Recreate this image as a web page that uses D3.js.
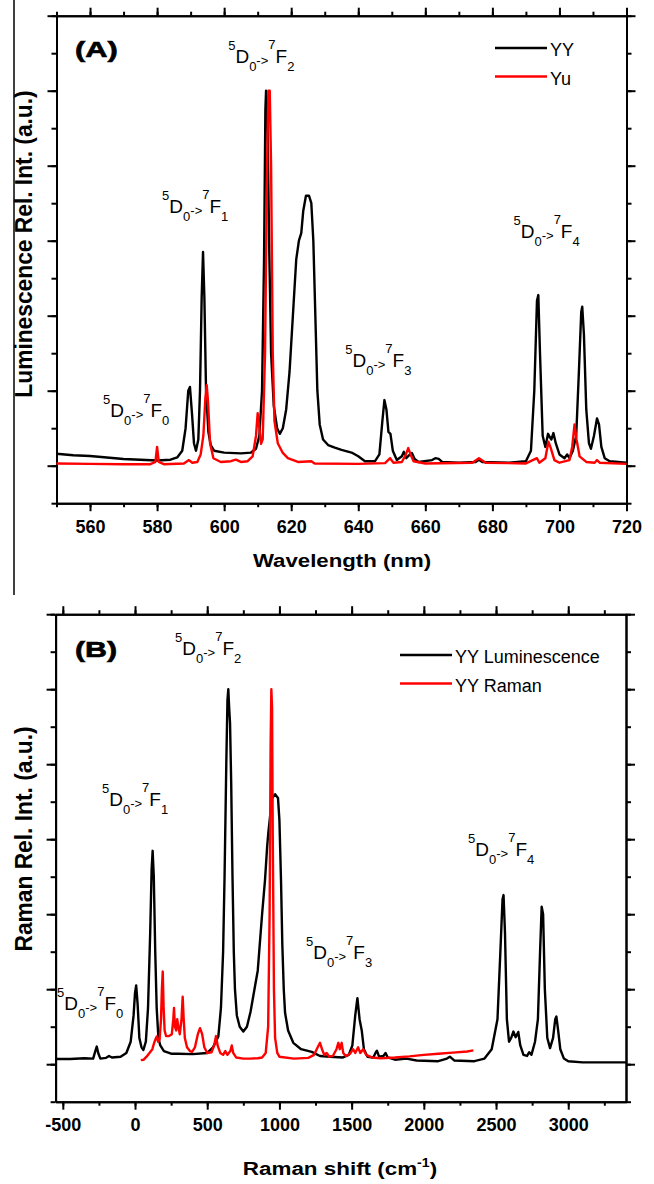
<!DOCTYPE html>
<html>
<head>
<meta charset="utf-8">
<style>
body { margin: 0; background: #fff; }
svg { display: block; }
text { font-family: "Liberation Sans", Arial, sans-serif; fill: #000; }
.axis path, .axis line { stroke: #000; stroke-width: 2px; }
.axis text { font-size: 18px; font-weight: bold; }
.spec { fill: none; stroke-width: 2.4px; stroke-linejoin: round; }
.title { font-weight: bold; }
</style>
<title></title>
</head>
<body>
<script src="https://d3js.org/d3.v7.min.js"></script>
<script>

// panel A: luminescence vs wavelength (nm), normalised intensity
var yyA = [[550,0.032],[555,0.028],[560,0.026],[565,0.022],[570,0.018],[575,0.016],[580,0.014],[584,0.016],[586,0.022],
  [587.5,0.04],[588.5,0.10],[589.3,0.20],[589.8,0.21],[590.4,0.14],[591,0.06],[591.6,0.04],[592.3,0.07],[592.8,0.2],
  [593.3,0.45],[593.7,0.57],[594.1,0.45],[594.6,0.2],[595.3,0.09],[596,0.055],[597,0.04],[600,0.035],[605,0.033],
  [608,0.035],[609.5,0.045],[610.5,0.08],[611.3,0.2],[611.9,0.55],[612.3,0.95],[612.5,1.0],[612.9,0.95],[613.4,0.6],
  [614,0.3],[614.8,0.16],[615.8,0.1],[616.6,0.085],[617.5,0.1],[618.5,0.15],[619.5,0.25],[620.5,0.4],[621.5,0.55],
  [622.3,0.6],[623,0.62],[623.6,0.68],[624.4,0.72],[625.3,0.72],[626,0.7],[626.6,0.6],[627.2,0.4],[627.8,0.2],
  [628.5,0.11],[629.5,0.07],[631,0.055],[633,0.048],[635,0.042],[638,0.035],[640,0.025],[642,0.012],[645,0.012],
  [646.3,0.03],[647.2,0.12],[647.8,0.175],[648.4,0.15],[649,0.09],[649.6,0.085],[650.3,0.04],[651.5,0.015],[653,0.025],
  [653.6,0.037],[654.3,0.02],[655.2,0.028],[656,0.034],[656.8,0.018],[658,0.01],[662,0.015],[663,0.02],[664,0.018],
  [665,0.01],[670,0.008],[675,0.01],[676,0.016],[677,0.01],[685,0.008],[690,0.012],[691.5,0.04],[692.5,0.2],
  [693.3,0.44],[693.7,0.455],[694.2,0.3],[695,0.08],[695.8,0.05],[696.6,0.085],[697.2,0.075],[697.6,0.07],[698.2,0.087],
  [698.9,0.06],[700,0.03],[701.5,0.02],[702.3,0.03],[703,0.02],[704,0.04],[705,0.08],[705.8,0.25],[706.5,0.41],
  [706.8,0.424],[707.3,0.35],[708,0.15],[708.8,0.06],[709.4,0.045],[710.3,0.08],[711.2,0.126],[711.8,0.11],
  [712.5,0.05],[713.5,0.02],[715,0.012],[720,0.008]];

var yuA = [[550,0.006],[560,0.005],[570,0.004],[578,0.004],[579.5,0.01],[580,0.05],[580.5,0.01],[582,0.004],[588,0.006],
  [589.5,0.015],[590.5,0.008],[592,0.01],[593,0.03],[593.8,0.08],[594.4,0.18],[594.8,0.215],[595.2,0.17],[595.8,0.06],
  [596.8,0.02],[599,0.01],[602,0.012],[603.5,0.016],[605,0.01],[607,0.012],[608.5,0.025],[609.5,0.08],[610,0.14],
  [610.5,0.1],[611,0.058],[611.5,0.07],[612.2,0.3],[612.8,0.8],[613.2,1.0],[613.6,1.0],[614,0.8],[614.5,0.3],
  [615,0.12],[616,0.06],[617.5,0.034],[619,0.02],[622,0.01],[626,0.012],[627,0.006],[640,0.005],[648,0.007],
  [649.5,0.02],[650.5,0.008],[653,0.01],[654.2,0.03],[654.9,0.047],[655.6,0.03],[656.5,0.012],[660,0.006],[674,0.008],
  [676,0.02],[678,0.008],[690,0.006],[693.3,0.02],[694,0.008],[695.8,0.02],[696.7,0.064],[697.3,0.05],[698.5,0.015],
  [700,0.008],[703,0.015],[703.8,0.05],[704.5,0.11],[705.1,0.07],[706,0.025],[708,0.01],[710.5,0.008],[711.2,0.015],
  [712,0.008],[720,0.005]];

// panel B: same luminescence on a Raman shift scale (cm-1), plus Raman spectrum
var yyB = [[-550,0.014],[-450,0.014],[-350,0.016],[-290,0.015],[-275,0.035],[-265,0.047],[-255,0.03],[-240,0.015],
  [-200,0.017],[-180,0.022],[-160,0.018],[-100,0.02],[-60,0.03],[-30,0.06],[-10,0.13],[0,0.19],[8,0.21],[18,0.16],
  [30,0.07],[45,0.045],[58,0.038],[75,0.06],[90,0.15],[105,0.35],[115,0.52],[122,0.569],[130,0.5],[140,0.3],[150,0.15],
  [162,0.07],[175,0.05],[200,0.035],[250,0.028],[300,0.028],[400,0.027],[500,0.03],[540,0.045],[577,0.074],[595,0.15],
  [610,0.3],[620,0.5],[632,0.8],[640,0.97],[646,1.0],[652,0.95],[658,0.91],[666,0.75],[675,0.5],[684,0.3],[692,0.2],
  [705,0.13],[725,0.1],[750,0.087],[775,0.1],[800,0.14],[850,0.25],[880,0.4],[900,0.49],[915,0.58],[923,0.617],
  [935,0.66],[950,0.71],[970,0.72],[990,0.71],[1000,0.65],[1011,0.49],[1020,0.32],[1030,0.2],[1039,0.137],
  [1060,0.09],[1096,0.057],[1150,0.04],[1224,0.033],[1281,0.022],[1350,0.02],[1440,0.018],[1480,0.025],[1505,0.05],
  [1525,0.13],[1540,0.176],[1555,0.12],[1570,0.09],[1585,0.04],[1610,0.02],[1650,0.018],[1665,0.03],[1675,0.036],
  [1690,0.02],[1720,0.022],[1735,0.03],[1750,0.018],[1800,0.012],[1880,0.015],[1950,0.01],[2100,0.008],[2160,0.015],
  [2180,0.02],[2210,0.01],[2350,0.008],[2420,0.015],[2470,0.04],[2510,0.12],[2530,0.3],[2545,0.44],[2552,0.451],
  [2562,0.35],[2575,0.12],[2590,0.06],[2605,0.07],[2620,0.087],[2636,0.072],[2654,0.086],[2668,0.05],[2690,0.025],
  [2715,0.022],[2730,0.032],[2745,0.025],[2770,0.06],[2790,0.12],[2805,0.3],[2816,0.42],[2826,0.4],[2838,0.2],
  [2855,0.07],[2874,0.043],[2895,0.07],[2910,0.12],[2918,0.127],[2930,0.09],[2945,0.04],[2970,0.015],[3000,0.008],
  [3100,0.005],[3400,0.005]];

var ramanB = [[40,0.011],[60,0.012],[80,0.02],[100,0.03],[120,0.04],[135,0.06],[150,0.074],[160,0.06],[170,0.065],
  [180,0.12],[186,0.2],[192,0.247],[198,0.15],[205,0.09],[215,0.075],[235,0.075],[255,0.08],[265,0.12],[270,0.15],
  [276,0.1],[285,0.09],[292,0.12],[300,0.1],[310,0.08],[322,0.12],[330,0.18],[337,0.12],[345,0.07],[360,0.045],
  [380,0.035],[395,0.033],[415,0.045],[435,0.08],[450,0.096],[465,0.08],[480,0.045],[500,0.03],[530,0.032],[548,0.05],
  [561,0.075],[572,0.05],[590,0.03],[610,0.025],[625,0.035],[640,0.025],[660,0.035],[670,0.05],[680,0.03],[700,0.018],
  [750,0.015],[800,0.015],[850,0.016],[880,0.018],[905,0.03],[922,0.1],[932,0.4],[939,0.85],[944,1.0],[949,0.95],
  [954,0.6],[962,0.2],[970,0.07],[985,0.03],[1000,0.02],[1100,0.015],[1200,0.017],[1240,0.025],[1265,0.045],
  [1281,0.057],[1295,0.04],[1310,0.025],[1327,0.03],[1345,0.02],[1370,0.022],[1395,0.04],[1408,0.057],[1418,0.04],
  [1431,0.057],[1442,0.03],[1460,0.022],[1490,0.028],[1510,0.04],[1525,0.03],[1545,0.045],[1560,0.03],[1580,0.04],
  [1600,0.025],[1640,0.018],[1700,0.016],[1800,0.018],[1900,0.021],[2000,0.025],[2100,0.028],[2200,0.031],
  [2300,0.034],[2343,0.037]];

// transition labels 5D0->7Fj, anchored in data units
var levelsA = [{j: "0", x: 563.9, y: 0.13}, {j: "1", x: 581.5, y: 0.674}, {j: "2", x: 601.2, y: 1.073},
  {j: "3", x: 636.1, y: 0.263}, {j: "4", x: 686.3, y: 0.607}];
var levelsB = [{j: "0", x: -540, y: 0.145}, {j: "1", x: -229, y: 0.689}, {j: "2", x: 277, y: 1.092},
  {j: "3", x: 1184, y: 0.281}, {j: "4", x: 2306, y: 0.556}];

var xMajorA = d3.range(560, 721, 20), xMinorA = d3.range(550, 721, 10);
var xMajorB = d3.range(-500, 3001, 500), xMinorB = d3.range(-500, 3400, 250);
var yMajor = [0, 0.2, 0.4, 0.6, 0.8, 1.0, 1.2], yMinor = d3.range(-0.1, 1.21, 0.1);

var legendA = ["YY", "Yu"], legendB = ["YY Luminescence", "YY Raman"];
var colors = ["#000", "#ff0000"];

var width = 654, height = 1184;
var svg = d3.select("body").append("svg").attr("width", width).attr("height", height);

// stray border line on the left of the figure
svg.append("line").attr("x1", 14).attr("x2", 14).attr("y1", 0).attr("y2", 595)
  .attr("stroke", "#000").attr("stroke-width", 1.5);

function frame(x, y, xMajor, xMinor) {
  var g = svg.append("g");
  var r = x.range(), t = y.range();
  g.append("g").attr("class", "axis").attr("transform", "translate(0," + t[0] + ")")
    .call(d3.axisBottom(x).tickValues(xMinor).tickSize(4).tickSizeOuter(0).tickFormat(""));
  var bx = g.append("g").attr("class", "axis").attr("transform", "translate(0," + t[0] + ")")
    .call(d3.axisBottom(x).tickValues(xMajor).tickSize(8).tickSizeOuter(0).tickFormat(String));
  bx.selectAll("text").attr("y", 17).attr("dy", "0.71em");
  g.append("g").attr("class", "axis").attr("transform", "translate(0," + t[1] + ")")
    .call(d3.axisTop(x).tickValues(xMinor).tickSize(4).tickSizeOuter(0).tickFormat(""));
  g.append("g").attr("class", "axis").attr("transform", "translate(0," + t[1] + ")")
    .call(d3.axisTop(x).tickValues(xMajor).tickSize(8).tickSizeOuter(0).tickFormat(""));
  [[d3.axisLeft, r[0]], [d3.axisRight, r[1]]].forEach(function(a) {
    g.append("g").attr("class", "axis").attr("transform", "translate(" + a[1] + ",0)")
      .call(a[0](y).tickValues(yMinor).tickSize(5).tickSizeOuter(0).tickFormat(""));
    g.append("g").attr("class", "axis").attr("transform", "translate(" + a[1] + ",0)")
      .call(a[0](y).tickValues(yMajor).tickSize(9).tickSizeOuter(0).tickFormat(""));
  });
  return g;
}

function spectra(x, y, series) {
  var line = d3.line().x(function(d) { return x(d[0]); }).y(function(d) { return y(d[1]); });
  svg.append("g").selectAll("path").data(series).enter().append("path")
    .attr("class", "spec")
    .attr("stroke", function(d, i) { return colors[i]; })
    .attr("d", line);
}

function level(x, y, d) {
  var t = svg.append("text").attr("x", x(d.x)).attr("y", y(d.y));
  var parts = [["5", 13, -13], ["D", 19, 13], ["0", 13, 8], ["->", 13, -6], ["7", 13, -16], ["F", 19, 14], [d.j, 13, 8]];
  parts.forEach(function(p) {
    t.append("tspan").attr("font-size", p[1]).attr("dy", p[2]).text(p[0]);
  });
}

function legend(names, lx, ly, gap, fs) {
  names.forEach(function(n, i) {
    svg.append("line").attr("x1", lx).attr("x2", lx + 52)
      .attr("y1", ly + i * gap).attr("y2", ly + i * gap)
      .attr("stroke", colors[i]).attr("stroke-width", 2.5);
    svg.append("text").attr("x", lx + 55).attr("y", ly + i * gap + 8)
      .attr("font-size", fs).text(n);
  });
}

function stretched(txt, cx, cy, size, sx, rot) {
  return svg.append("text").attr("class", "title")
    .attr("text-anchor", "middle").attr("font-size", size)
    .attr("transform", "translate(" + cx + "," + cy + ")" + (rot ? " rotate(-90)" : "") + " scale(" + sx + ",1)")
    .text(txt);
}

// ---- panel A
var xA = d3.scaleLinear().domain([550, 720]).range([56.5, 626.5]);
var yA = d3.scaleLinear().domain([-0.1, 1.2]).range([503.2, 15.7]);
frame(xA, yA, xMajorA, xMinorA);
spectra(xA, yA, [yyA, yuA]);
levelsA.forEach(function(d) { level(xA, yA, d); });
legend(legendA, 495, 48, 28.5, 18);
svg.append("text").attr("class", "title").attr("font-size", 22).attr("stroke", "#000").attr("stroke-width", 0.6)
  .attr("transform", "translate(75,57) scale(1.4,1)").text("(A)");
stretched("Wavelength (nm)", 342, 567, 19, 1.17, false);
stretched("Luminescence Rel. Int. (a.u.)", 32, 244, 23, 0.99, true);

// ---- panel B
var xB = d3.scaleLinear().domain([-550, 3400]).range([55.6, 626]);
var yB = d3.scaleLinear().domain([-0.1, 1.2]).range([1101.7, 614.2]);
frame(xB, yB, xMajorB, xMinorB);
spectra(xB, yB, [yyB, ramanB]);
levelsB.forEach(function(d) { level(xB, yB, d); });
legend(legendB, 400, 655, 28.5, 18);
svg.append("text").attr("class", "title").attr("font-size", 22).attr("stroke", "#000").attr("stroke-width", 0.6)
  .attr("transform", "translate(75,657) scale(1.38,1)").text("(B)");
var xt = stretched("Raman shift (cm", 340, 1175, 19, 1.18, false);
xt.append("tspan").attr("font-size", 12).attr("dy", -8).text("-1");
xt.append("tspan").attr("dy", 8).text(")");
stretched("Raman Rel. Int. (a.u.)", 32, 839, 23, 0.99, true);

</script>
</body>
</html>
